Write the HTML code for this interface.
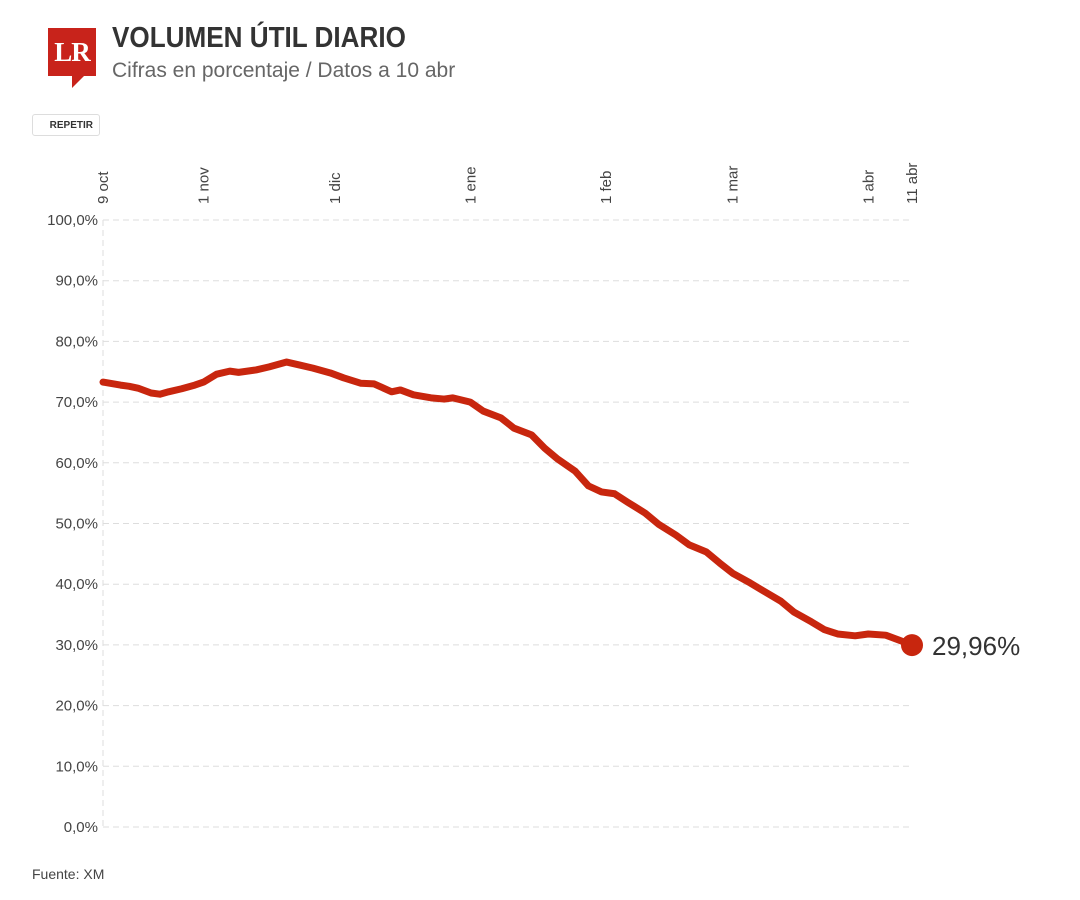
<!DOCTYPE html>
<html><head><meta charset="utf-8">
<style>
body{margin:0;background:#fff;width:1080px;height:900px;overflow:hidden;font-family:"Liberation Sans Narrow","Liberation Sans",sans-serif;}
.t{position:absolute}
</style></head><body>
<div class="t" style="left:48px;top:28px;width:48px;height:48px;background:#c8231b;">
  <div style="color:#fff;font-family:'Liberation Serif',serif;font-weight:bold;font-size:27px;text-align:center;line-height:48px;letter-spacing:-1px">LR</div>
  <div style="position:absolute;left:24px;top:48px;width:0;height:0;border-left:0 solid transparent;border-right:12px solid transparent;border-top:12px solid #c8231b;"></div>
</div>
<div class="t" style="left:112px;top:22px;font-size:29px;font-weight:bold;color:#333;transform:scaleX(0.9);transform-origin:0 0;white-space:nowrap;">VOLUMEN ÚTIL DIARIO</div>
<div class="t" style="left:112px;top:59px;font-size:21px;color:#666;white-space:nowrap;">Cifras en porcentaje / Datos a 10 abr</div>
<div class="t" style="left:32px;top:114px;width:68px;height:22px;border:1px solid #ddd;border-radius:3px;font-size:10px;font-weight:bold;color:#333;line-height:22px;text-align:right;box-sizing:border-box;padding-right:6px;">REPETIR</div>
<div class="t" style="left:32px;top:866px;font-size:14px;color:#444;">Fuente: XM</div>
<svg id="chart" class="t" style="left:0;top:0" width="1080" height="900"></svg>
<script>
const days=[0,4,6,8,11,13,15,18,21,23,26,29,31,35,38,42,45,48,52,55,59,62,66,68,71,75,78,80,84,87,91,94,98,101,104,108,111,114,117,120,124,127,131,134,138,141,144,148,151,155,158,162,165,168,172,175,179,182,185];
const values=[73.3,72.8,72.6,72.3,71.5,71.3,71.7,72.2,72.8,73.3,74.6,75.1,74.9,75.3,75.8,76.6,76.1,75.6,74.8,74.0,73.1,73.0,71.7,72.0,71.2,70.7,70.5,70.7,70.0,68.5,67.4,65.7,64.6,62.4,60.6,58.6,56.2,55.2,54.9,53.5,51.7,49.9,48.1,46.5,45.3,43.5,41.8,40.2,38.9,37.2,35.4,33.8,32.5,31.8,31.5,31.8,31.6,30.8,29.96];
const yTicks=[0,10,20,30,40,50,60,70,80,90,100];
const yTickLabels=["0,0%","10,0%","20,0%","30,0%","40,0%","50,0%","60,0%","70,0%","80,0%","90,0%","100,0%"];
const xTickDays=[0,23,53,84,115,144,175,185];
const xTickLabels=["9 oct","1 nov","1 dic","1 ene","1 feb","1 mar","1 abr","11 abr"];
const endLabel="29,96%";
const NS="http://www.w3.org/2000/svg",svg=document.getElementById('chart');
const x0=103,x1=912,y0=827,y1=220;
const X=d=>x0+(x1-x0)*d/185, Y=v=>y0-(y0-y1)*v/100;
function mk(t,a,p){const e=document.createElementNS(NS,t);for(const k in a)e.setAttribute(k,a[k]);(p||svg).appendChild(e);return e;}
const vline=mk('line',{x1:x0,x2:x0,y1:y1,y2:y0,stroke:'#ddd','stroke-dasharray':'6,4'});


yTicks.forEach((v,i)=>{
 const g=mk('line',{x1:x0,x2:x1,y1:Y(v),y2:Y(v),stroke:'#ddd','stroke-dasharray':'6,4'});
 
 
 const t=mk('text',{x:98,y:Y(v)+5,'text-anchor':'end','font-size':'15',fill:'#444'});
 t.textContent=yTickLabels[i];
 
 
});
xTickDays.forEach((d,i)=>{
 const t=mk('text',{x:0,y:0,'text-anchor':'start','font-size':'15',fill:'#444',transform:`translate(${X(d)+5},204) rotate(-90)`});
 t.textContent=xTickLabels[i];
 
 
});
const path=mk('path',{d:days.map((d,i)=>(i?'L':'M')+X(d)+','+Y(values[i])).join(''),fill:'none',stroke:'#c8260e','stroke-width':7,'stroke-linejoin':'round','stroke-linecap':'round'});


const n=days.length-1;
const dot=mk('circle',{cx:X(days[n]),cy:Y(values[n]),r:11,fill:'#c8260e'});


const lb=mk('text',{x:X(days[n])+20,y:Y(values[n])+10,'font-size':'26',fill:'#333'});
lb.textContent=endLabel;


</script>
</body></html>
